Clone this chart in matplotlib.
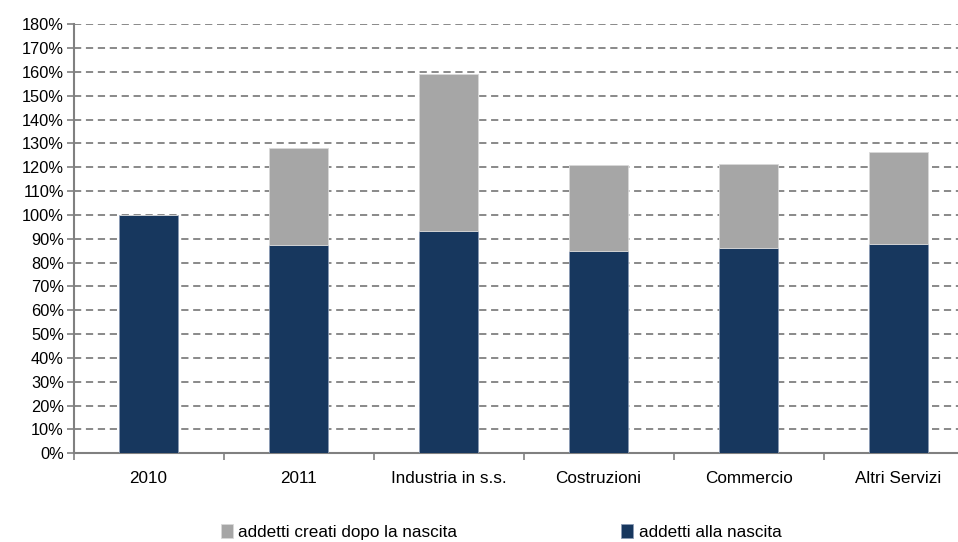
import numpy as np
import matplotlib.pyplot as plt
from matplotlib.ticker import FuncFormatter, MultipleLocator, FixedLocator

plt.rcParams['font.family'] = ['Liberation Sans', 'DejaVu Sans']

categories = ["2010", "2011", "Industria in s.s.", "Costruzioni", "Commercio", "Altri Servizi"]
addetti_nascita = [100.0, 87.4, 93.3, 84.9, 86.3, 87.7]
addetti_creati = [0.0, 40.8, 65.9, 36.1, 35.1, 38.9]

navy = "#17375E"
grey = "#A6A6A6"
axis_grey = "#808080"

fig = plt.figure(figsize=(9.58, 5.42), dpi=100)
ax = fig.add_axes([73.5 / 958, 88.7 / 542, (958 - 73.5) / 958, 429 / 542])

x = np.arange(len(categories))
w = 0.393
ax.bar(x, addetti_nascita, width=w, color=navy, edgecolor="#8a9bb5", linewidth=0.6,
       label="addetti alla nascita", zorder=3)
ax.bar(x, addetti_creati, width=w, bottom=addetti_nascita, color=grey,
       edgecolor="#d9d9d9", linewidth=0.6, label="addetti creati dopo la nascita", zorder=3)

ax.set_ylim(0, 180)
ax.set_xlim(-0.5, -0.5 + (958 - 73.5) / 150)
ax.yaxis.set_major_locator(MultipleLocator(10))
ax.yaxis.set_major_formatter(FuncFormatter(lambda v, p: f"{v:.0f}%"))
ax.grid(axis="y", color=axis_grey, linestyle=(0, (4, 2.6)), linewidth=1.3, zorder=0)

# category labels centred, tick marks on the boundaries
ax.set_xticks(x)
ax.set_xticklabels(categories)
ax.xaxis.set_minor_locator(FixedLocator(np.arange(-0.5, len(categories), 1.0)))
ax.tick_params(axis="x", which="major", length=0, pad=13, labelsize=12.3)
ax.tick_params(axis="x", which="minor", length=5, color=axis_grey, width=1.2)
ax.tick_params(axis="y", length=5, color=axis_grey, width=1.2, labelsize=11.8, pad=2)

for side in ["top", "right"]:
    ax.spines[side].set_visible(False)
for side in ["left", "bottom"]:
    ax.spines[side].set_color(axis_grey)
    ax.spines[side].set_linewidth(1.5)

handles, labels = ax.get_legend_handles_labels()
fig.legend(handles[::-1], labels[::-1], loc="lower left", bbox_to_anchor=(0.215, -0.025),
           ncol=2, frameon=False, fontsize=12.3, handlelength=0.7, handleheight=0.9,
           handletextpad=0.3, columnspacing=9.6)

fig.savefig("out.png", dpi=100)
